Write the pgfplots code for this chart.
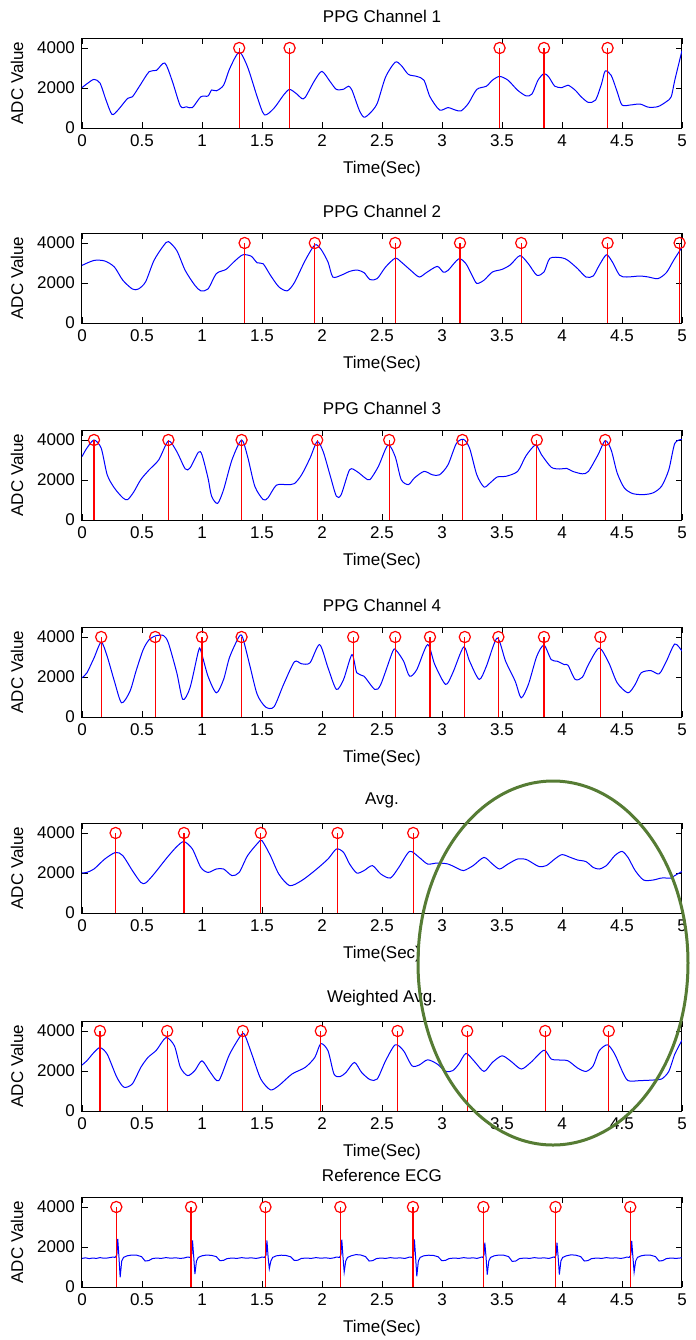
\documentclass[border=0pt]{standalone}
\usepackage{pgfplots}
\pgfplotsset{compat=1.18}
\usepackage{fontspec}
\setmainfont{Liberation Sans}
\definecolor{ellgreen}{RGB}{86,124,52}

\pgfplotsset{
  panel/.style={
    width=300pt, height=45pt, scale only axis,
    anchor=south west,
    xmin=0, xmax=5, ymin=0, ymax=4500,
    xtick={0,0.5,1,1.5,2,2.5,3,3.5,4,4.5,5},
    xticklabels={0,0.5,1,1.5,2,2.5,3,3.5,4,4.5,5},
    ytick={0,2000,4000},
    yticklabels={0,2000,4000},
    tick align=inside, tick pos=both, major tick length=3pt,
    axis line style={line width=0.5pt},
    every tick/.style={black, line width=0.4pt},
    tick label style={font=\fontsize{8.5}{10}\selectfont},
    label style={font=\fontsize{8.5}{10}\selectfont},
    title style={font=\fontsize{8.5}{10}\selectfont, yshift=-2pt},
    xlabel={Time(Sec)}, ylabel={ADC Value},
  },
  sig/.style={blue, line width=0.5pt, no marks, smooth, tension=0.45},
  stem/.style={red, line width=0.6pt, ycomb, mark=o, mark size=2.8pt,
    mark options={line width=0.6pt}},
}

\begin{document}
\begin{tikzpicture}
\useasboundingbox (0,0) rectangle (348pt,-670pt);

% PPG channel 1
\begin{axis}[panel, at={(41pt,-64pt)}, title={PPG Channel 1}]
\addplot[sig] coordinates {
(0,2020)(0.05,2250)(0.10,2430)(0.15,2250)(0.20,1400)(0.25,680)(0.30,900)(0.38,1480)(0.42,1560)(0.48,2100)(0.56,2820)(0.62,2880)(0.69,3250)(0.75,2390)(0.82,1100)(0.87,1060)(0.92,1020)(0.99,1560)(1.05,1600)(1.08,1900)(1.12,1860)(1.18,2140)(1.23,2960)(1.31,3790)(1.38,3050)(1.46,1560)(1.52,660)(1.60,990)(1.68,1650)(1.73,1930)(1.79,1700)(1.83,1480)(1.86,1530)(1.94,2390)(2.00,2830)(2.07,2300)(2.12,1930)(2.18,1940)(2.22,2090)(2.25,1890)(2.31,900)(2.35,540)(2.40,740)(2.46,1230)(2.53,2550)(2.61,3290)(2.66,3130)(2.72,2680)(2.79,2580)(2.85,2390)(2.90,1560)(2.98,900)(3.05,1020)(3.11,900)(3.16,860)(3.22,1230)(3.29,1930)(3.37,2090)(3.42,2390)(3.48,2580)(3.55,2390)(3.63,1890)(3.70,1610)(3.75,1700)(3.80,2390)(3.85,2720)(3.89,2550)(3.94,2090)(4.00,2020)(4.05,2140)(4.11,1890)(4.16,1560)(4.22,1280)(4.28,1400)(4.33,2220)(4.36,2850)(4.41,2630)(4.46,1810)(4.50,1150)(4.57,1150)(4.65,1200)(4.72,1040)(4.80,1070)(4.87,1320)(4.91,1560)(4.94,2390)(5.00,3870)
};
\addplot[stem] coordinates {(1.31,4000)(1.73,4000)(3.48,4000)(3.85,4000)(4.38,4000)};
\end{axis}

% PPG channel 2
\begin{axis}[panel, at={(41pt,-161.5pt)}, title={PPG Channel 2}]
\addplot[sig] coordinates {
(0,2880)(0.10,3130)(0.19,3100)(0.27,2800)(0.34,2140)(0.42,1700)(0.47,1700)(0.53,2060)(0.60,3130)(0.68,3870)(0.72,4070)(0.79,3620)(0.86,2630)(0.94,1890)(0.99,1610)(1.05,1700)(1.12,2470)(1.20,2680)(1.27,3080)(1.34,3410)(1.41,3340)(1.46,3010)(1.51,2960)(1.57,2390)(1.64,1810)(1.71,1610)(1.77,2020)(1.86,3130)(1.94,3900)(1.99,3700)(2.05,3050)(2.09,2300)(2.16,2390)(2.23,2580)(2.29,2650)(2.35,2520)(2.40,2170)(2.46,2220)(2.53,2800)(2.61,3240)(2.66,3050)(2.74,2630)(2.81,2300)(2.87,2520)(2.96,2830)(3.01,2550)(3.05,2630)(3.14,3210)(3.20,2960)(3.25,2390)(3.29,1980)(3.35,2140)(3.42,2550)(3.50,2680)(3.57,2910)(3.65,3370)(3.72,2960)(3.79,2390)(3.85,2550)(3.90,3240)(4.00,3260)(4.05,3130)(4.13,2720)(4.20,2300)(4.26,2350)(4.31,2880)(4.37,3410)(4.42,3050)(4.48,2390)(4.54,2300)(4.65,2350)(4.72,2300)(4.80,2220)(4.87,2520)(4.93,3130)(5.00,3790)
};
\addplot[stem] coordinates {(1.355,4000)(1.94,4000)(2.61,4000)(3.15,4000)(3.66,4000)(4.38,4000)(4.98,4000)};
\end{axis}

% PPG channel 3
\begin{axis}[panel, at={(41pt,-260pt)}, title={PPG Channel 3}]
\addplot[sig] coordinates {
(0,3170)(0.04,3590)(0.10,4000)(0.16,3590)(0.21,2260)(0.27,1600)(0.34,1110)(0.38,1020)(0.43,1390)(0.49,2020)(0.56,2510)(0.64,3010)(0.72,3950)(0.79,3420)(0.86,2560)(0.90,2600)(0.97,3390)(1.00,3260)(1.05,2100)(1.08,1190)(1.13,830)(1.18,1520)(1.25,3010)(1.33,4000)(1.38,3170)(1.44,1690)(1.51,1020)(1.55,1110)(1.62,1740)(1.71,1770)(1.77,1820)(1.83,2260)(1.90,3090)(1.96,3920)(2.01,3420)(2.07,2180)(2.12,1190)(2.16,1270)(2.23,2510)(2.29,2430)(2.36,2100)(2.40,2020)(2.47,2680)(2.55,3750)(2.61,3170)(2.66,2020)(2.72,1770)(2.77,2100)(2.85,2430)(2.92,2260)(2.98,2260)(3.05,2760)(3.12,3830)(3.18,4030)(3.23,3590)(3.29,2260)(3.35,1650)(3.40,1850)(3.46,2150)(3.53,2180)(3.63,2430)(3.70,3210)(3.78,3750)(3.83,3260)(3.91,2640)(3.98,2550)(4.04,2580)(4.09,2430)(4.17,2310)(4.22,2430)(4.30,3260)(4.36,3970)(4.41,3500)(4.46,2350)(4.52,1600)(4.59,1320)(4.68,1270)(4.76,1360)(4.83,1690)(4.89,2510)(4.94,3830)(5.00,4030)
};
\addplot[stem] coordinates {(0.10,4000)(0.72,4000)(1.33,4000)(1.96,4000)(2.56,4000)(3.17,4000)(3.79,4000)(4.36,4000)};
\end{axis}

% PPG channel 4
\begin{axis}[panel, at={(41pt,-358.5pt)}, title={PPG Channel 4}]
\addplot[sig] coordinates {
(0,1960)(0.04,2200)(0.10,2950)(0.16,3740)(0.21,3030)(0.27,1790)(0.33,710)(0.40,1290)(0.45,2290)(0.51,3370)(0.56,3870)(0.62,4070)(0.68,4070)(0.72,3700)(0.79,2210)(0.84,880)(0.90,1460)(0.97,3290)(0.99,3320)(1.05,2040)(1.12,1210)(1.18,1880)(1.23,2990)(1.31,4030)(1.34,3950)(1.40,2540)(1.46,1130)(1.53,500)(1.60,510)(1.68,1630)(1.77,2760)(1.83,2660)(1.90,2710)(1.98,3620)(2.05,2460)(2.12,1380)(2.18,1880)(2.25,3120)(2.29,2210)(2.35,2040)(2.44,1380)(2.49,1630)(2.59,3290)(2.62,3320)(2.68,2790)(2.73,2040)(2.79,2370)(2.88,3620)(2.94,2620)(3.03,1630)(3.09,2210)(3.18,3500)(3.23,2790)(3.31,1880)(3.37,2540)(3.46,3950)(3.53,2790)(3.61,1790)(3.66,960)(3.72,1630)(3.79,3040)(3.85,3590)(3.91,2870)(3.96,2790)(4.02,2620)(4.05,2590)(4.11,1880)(4.17,1990)(4.22,2620)(4.31,3450)(4.39,2710)(4.46,1710)(4.55,1210)(4.61,1630)(4.66,2210)(4.74,2320)(4.81,2160)(4.87,2790)(4.94,3650)(5.00,3290)
};
\addplot[stem] coordinates {(0.16,4000)(0.61,4000)(1.00,4000)(1.33,4000)(2.26,4000)(2.61,4000)(2.90,4000)(3.19,4000)(3.47,4000)(3.85,4000)(4.32,4000)};
\end{axis}

% Average
\begin{axis}[panel, at={(41pt,-456.5pt)}, title={Avg.}]
\addplot[sig] coordinates {
(0,2000)(0.04,2030)(0.10,2200)(0.19,2700)(0.28,3030)(0.34,2870)(0.42,2120)(0.49,1530)(0.53,1500)(0.60,1950)(0.71,2780)(0.79,3320)(0.85,3570)(0.92,3200)(0.99,2280)(1.05,2030)(1.12,2200)(1.18,2200)(1.25,1870)(1.31,2030)(1.38,2870)(1.47,3530)(1.50,3620)(1.57,2870)(1.64,1950)(1.73,1370)(1.83,1620)(1.94,2120)(2.05,2700)(2.12,3200)(2.18,3030)(2.23,2450)(2.29,2000)(2.35,2120)(2.42,2370)(2.49,1950)(2.57,1750)(2.64,2280)(2.73,3080)(2.81,2780)(2.88,2450)(2.96,2500)(3.05,2450)(3.13,2230)(3.18,2120)(3.26,2370)(3.35,2780)(3.42,2450)(3.48,2200)(3.55,2450)(3.63,2700)(3.70,2680)(3.76,2480)(3.81,2320)(3.87,2370)(3.94,2700)(4.00,2920)(4.07,2780)(4.13,2650)(4.20,2570)(4.26,2280)(4.31,2200)(4.37,2370)(4.44,2870)(4.50,3080)(4.55,2780)(4.61,2120)(4.68,1650)(4.76,1650)(4.83,1750)(4.91,1750)(4.94,1870)(5.00,2080)
};
\addplot[stem] coordinates {(0.28,4000)(0.85,4000)(1.49,4000)(2.13,4000)(2.76,4000)};
\end{axis}

% Weighted average
\begin{axis}[panel, at={(41pt,-555.5pt)}, title={Weighted Avg.}]
\addplot[sig] coordinates {
(0,2300)(0.04,2510)(0.10,2930)(0.15,3170)(0.21,2840)(0.29,1690)(0.35,1190)(0.42,1360)(0.49,2180)(0.55,2680)(0.62,3040)(0.70,3670)(0.77,3260)(0.82,2180)(0.88,1770)(0.94,2020)(1.00,2510)(1.07,1930)(1.14,1520)(1.23,2840)(1.33,3830)(1.36,3750)(1.42,2760)(1.49,1600)(1.57,1060)(1.64,1270)(1.75,1850)(1.86,2180)(1.94,2680)(1.99,3370)(2.05,3010)(2.10,1850)(2.15,1720)(2.20,1930)(2.27,2430)(2.33,1930)(2.40,1570)(2.46,1600)(2.53,2510)(2.61,3310)(2.68,3010)(2.75,2260)(2.81,2300)(2.88,2560)(2.96,2350)(3.03,1980)(3.09,2020)(3.14,2350)(3.20,2880)(3.27,2480)(3.35,1980)(3.42,2430)(3.50,2760)(3.57,2510)(3.66,2100)(3.74,2430)(3.85,3040)(3.91,2600)(3.98,2550)(4.05,2510)(4.13,2150)(4.20,1980)(4.26,2260)(4.31,3010)(4.38,3310)(4.44,2840)(4.50,2020)(4.55,1520)(4.65,1520)(4.76,1550)(4.83,1600)(4.89,1980)(4.94,2840)(5.00,3540)
};
\addplot[stem] coordinates {(0.15,4000)(0.71,4000)(1.34,4000)(1.99,4000)(2.63,4000)(3.21,4000)(3.86,4000)(4.39,4000)};
\end{axis}

% Reference ECG
\begin{axis}[panel, at={(41pt,-643.5pt)}, title={Reference ECG}]
\addplot[blue, line width=0.5pt, no marks] coordinates {
(0,1430)(0.03,1460)(0.06,1420)(0.09,1450)(0.12,1430)(0.15,1470)(0.18,1440)(0.21,1450)(0.24,1480)(0.26,1500)(0.275,1480)
(0.291,1600)(0.298,2400)(0.308,1500)(0.318,490)(0.331,1300)(0.346,1480)(0.376,1560)(0.416,1600)(0.456,1590)(0.496,1520)(0.526,1300)(0.556,1320)(0.586,1420)
(0.62,1450)(0.66,1430)(0.70,1470)(0.74,1440)(0.78,1460)(0.82,1430)(0.85,1450)(0.88,1500)(0.90,1480)
(0.914,1600)(0.921,2330)(0.931,1500)(0.941,650)(0.954,1300)(0.969,1480)(0.999,1560)(1.039,1600)(1.079,1580)(1.119,1520)(1.149,1320)(1.179,1330)(1.209,1420)
(1.25,1450)(1.29,1430)(1.33,1470)(1.37,1440)(1.41,1460)(1.45,1430)(1.48,1460)(1.50,1500)(1.52,1480)
(1.534,1600)(1.541,2330)(1.551,1500)(1.561,910)(1.574,1300)(1.589,1480)(1.619,1560)(1.659,1590)(1.699,1580)(1.739,1510)(1.769,1330)(1.799,1340)(1.829,1430)
(1.87,1450)(1.91,1430)(1.95,1470)(1.99,1440)(2.03,1460)(2.07,1430)(2.10,1460)(2.12,1500)(2.145,1480)
(2.158,1600)(2.165,2370)(2.175,1500)(2.185,750)(2.198,1300)(2.213,1480)(2.243,1560)(2.283,1620)(2.323,1600)(2.363,1520)(2.393,1300)(2.423,1320)(2.453,1420)
(2.49,1450)(2.53,1430)(2.57,1470)(2.61,1440)(2.65,1460)(2.69,1430)(2.71,1460)(2.73,1500)(2.75,1480)
(2.763,1600)(2.770,2380)(2.780,1500)(2.790,540)(2.803,1300)(2.818,1480)(2.848,1560)(2.888,1590)(2.928,1580)(2.968,1510)(2.998,1320)(3.028,1330)(3.058,1420)
(3.10,1450)(3.14,1430)(3.18,1470)(3.22,1440)(3.26,1460)(3.29,1430)(3.31,1460)(3.33,1500)(3.34,1480)
(3.350,1600)(3.357,2220)(3.367,1500)(3.377,620)(3.390,1300)(3.405,1480)(3.435,1560)(3.475,1600)(3.515,1590)(3.555,1520)(3.585,1280)(3.615,1300)(3.645,1420)
(3.69,1450)(3.73,1430)(3.77,1470)(3.81,1440)(3.85,1460)(3.89,1430)(3.91,1460)(3.93,1500)(3.94,1480)
(3.951,1600)(3.958,2220)(3.968,1500)(3.978,620)(3.991,1300)(4.006,1480)(4.036,1560)(4.076,1610)(4.116,1590)(4.156,1520)(4.186,1300)(4.216,1320)(4.246,1420)
(4.29,1450)(4.33,1430)(4.37,1470)(4.41,1440)(4.45,1460)(4.49,1430)(4.52,1460)(4.54,1500)(4.56,1480)
(4.574,1600)(4.581,2300)(4.591,1500)(4.601,750)(4.614,1300)(4.629,1480)(4.659,1560)(4.699,1600)(4.739,1590)(4.779,1520)(4.809,1300)(4.839,1320)(4.869,1420)
(4.91,1450)(4.95,1430)(5.0,1460)
};
\addplot[stem] coordinates {(0.286,4000)(0.909,4000)(1.529,4000)(2.153,4000)(2.758,4000)(3.345,4000)(3.946,4000)(4.569,4000)};
\end{axis}

% highlighted region
\draw[ellgreen, line width=1.5pt] (276.5pt,-481.5pt) ellipse [x radius=67.5pt, y radius=91pt];
\end{tikzpicture}
\end{document}
